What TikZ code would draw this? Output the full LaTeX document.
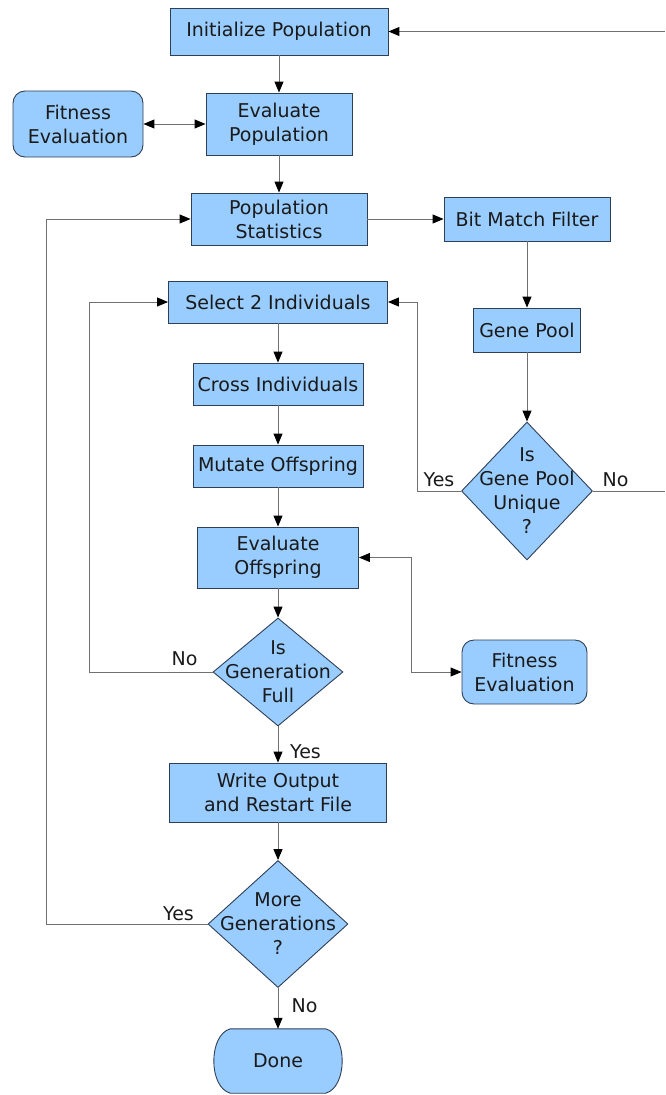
\documentclass[tikz,border=0pt]{standalone}
\usepackage{fontspec}
\setmainfont{DejaVu Sans}
\usetikzlibrary{arrows.meta,shapes.geometric}
\definecolor{boxfill}{HTML}{99CCFF}
\definecolor{boxline}{HTML}{2F3F55}
\definecolor{conn}{HTML}{707070}
\definecolor{txt}{HTML}{1A1A1A}
\tikzset{
  base/.style={font=\fontsize{19}{24}\selectfont, text=txt},
  procbox/.style={base, rectangle, draw=boxline, fill=boxfill, line width=0.9pt, inner sep=0pt, align=center},
  roundbox/.style={procbox, rounded corners=12pt},
  decbox/.style={diamond, draw=boxline, fill=boxfill, line width=0.9pt, inner sep=0pt},
  dectext/.style={base, align=center, inner sep=0pt},
  termtext/.style={base, inner sep=0pt},
  termshape/.style={draw=boxline, fill=boxfill, line width=0.9pt},
  conn/.style={draw=conn, line width=1pt},
  arr/.style={conn, -{Triangle[length=11pt,width=9pt,color=black]}},
  darr/.style={conn, {Triangle[length=11pt,width=9pt,color=black]}-{Triangle[length=11pt,width=9pt,color=black]}},
  lab/.style={base, inner sep=0pt, anchor=base}
}
\begin{document}
\begin{tikzpicture}[x=1pt,y=-1pt]
\useasboundingbox (0,0) rectangle (665,1095);
% boxes
\node[procbox, minimum width=218, minimum height=47] (init) at (279,31.5) {Initialize Population};
\node[procbox, minimum width=146, minimum height=62] (evalpop) at (279,124) {Evaluate\\Population};
\node[roundbox, minimum width=130, minimum height=66] (fit1) at (78,124) {Fitness\\Evaluation};
\node[procbox, minimum width=176, minimum height=52] (stats) at (279,219) {Population\\Statistics};
\node[procbox, minimum width=166, minimum height=44] (bmf) at (527,219) {Bit Match Filter};
\node[procbox, minimum width=219, minimum height=42] (sel) at (278,302) {Select 2 Individuals};
\node[procbox, minimum width=107, minimum height=44] (gp) at (527,330) {Gene Pool};
\node[procbox, minimum width=170, minimum height=42] (cross) at (278,384) {Cross Individuals};
\node[procbox, minimum width=170, minimum height=42] (mut) at (278,466) {Mutate Offspring};
\node[procbox, minimum width=161, minimum height=61] (evoff) at (278,557.5) {Evaluate\\Offspring};
\node[roundbox, minimum width=125, minimum height=64] (fit2) at (524.5,672) {Fitness\\Evaluation};
\node[procbox, minimum width=217, minimum height=59] (write) at (278,792.5) {Write Output\\and Restart File};
% terminal "Done"
\node[termtext, minimum width=131, minimum height=64] (done) at (278,1061) {};
\path[termshape] ([xshift=18]done.north west) -- ([xshift=-18]done.north east)
  .. controls ([xshift=4,yshift=-6]done.north east) and ([xshift=4,yshift=6]done.south east) .. ([xshift=-18]done.south east)
  -- ([xshift=18]done.south west)
  .. controls ([xshift=-4,yshift=6]done.south west) and ([xshift=-4,yshift=-6]done.north west) .. cycle;
\node[termtext] (donet) at (done) {Done};
% diamonds
\node[decbox, minimum width=131, minimum height=138] (gpu) at (527,491) {};
\node[dectext] (gput) at (gpu) {Is\\Gene Pool\\Unique\\?};
\node[decbox, minimum width=130, minimum height=108] (gen) at (278,672) {};
\node[dectext] (gent) at (gen) {Is\\Generation\\Full};
\node[decbox, minimum width=140, minimum height=127] (more) at (278,924) {};
\node[dectext] (moret) at (more) {More\\Generations\\?};
% free ends and bends
\coordinate (inR) at (665,31.5);
\coordinate (noR) at (665,491);
\coordinate (b1) at (417,491);
\coordinate (b2) at (89,672);
\coordinate (b3) at (411,672);
\coordinate (b4) at (46,924);
% connectors
\draw[arr] (inR) -- (init.east);
\draw[arr] (init.south) -- (evalpop.north);
\draw[darr] (fit1.east) -- (evalpop.west);
\draw[arr] (evalpop.south) -- (stats.north);
\draw[arr] (stats.east) -- (bmf.west);
\draw[arr] (bmf.south) -- (gp.north);
\draw[arr] (gp.south) -- (gpu.north);
\draw[arr] (gpu.west) -- (b1) |- (sel.east);
\draw[conn] (gpu.east) -- (noR);
\draw[arr] (sel.south) -- (cross.north);
\draw[arr] (cross.south) -- (mut.north);
\draw[arr] (mut.south) -- (evoff.north);
\draw[arr] (evoff.south) -- (gen.north);
\draw[arr] (gen.west) -- (b2) |- (sel.west);
\draw[darr] (evoff.east) -| (b3) -- (fit2.west);
\draw[arr] (gen.south) -- (write.north);
\draw[arr] (write.south) -- (more.north);
\draw[arr] (more.west) -- (b4) |- (stats.west);
\draw[arr] (more.south) -- (done.north);
% labels
\node[lab] (l1) at (439,486) {Yes};
\node[lab] (l2) at (615.5,486) {No};
\node[lab] (l3) at (184.5,665) {No};
\node[lab] (l4) at (305.5,758) {Yes};
\node[lab] (l5) at (178.5,920) {Yes};
\node[lab] (l6) at (304.5,1012) {No};
\end{tikzpicture}
\end{document}
